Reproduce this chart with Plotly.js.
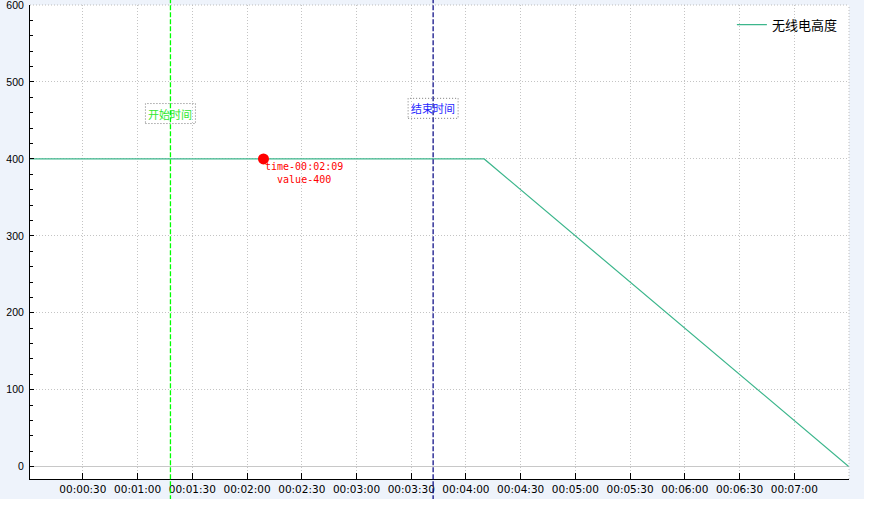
<!DOCTYPE html>
<html>
<head>
<meta charset="utf-8">
<script src="https://cdn.plot.ly/plotly-3.0.1.min.js"></script>
<style>
  html, body { margin: 0; padding: 0; background: #ffffff; }
  #chart { width: 864px; height: 499px; }
</style>
</head>
<body>
<div id="chart"></div>
<script>
// ---- data (seconds / metres) ----
var seriesName = '无线电高度';
var timeSec = [1, 250, 450];
var heightValues = [400, 400, 0];

var tickSeconds = [30, 60, 90, 120, 150, 180, 210, 240, 270, 300, 330, 360, 390, 420, 450];
var tickLabels = ['00:00:30', '00:01:00', '00:01:30', '00:02:00', '00:02:30', '00:03:00', '00:03:30',
                  '00:04:00', '00:04:30', '00:05:00', '00:05:30', '00:06:00', '00:06:30', '00:07:00', ''];
var yTickValues = [0, 100, 200, 300, 400, 500, 600];

var startTime = [78];
var endTime = [222];
var markerLabels = ['开始时间', '结束时间'];

var cursorTime = [129];
var cursorValue = [400];

function fmt(s) {
  var h = Math.floor(s / 3600), m = Math.floor((s % 3600) / 60), sec = s % 60;
  var p = function (n) { return (n < 10 ? '0' : '') + n; };
  return p(h) + ':' + p(m) + ':' + p(sec);
}

var traces = [
  {
    x: timeSec, y: heightValues, type: 'scatter', mode: 'lines', name: seriesName,
    line: { color: '#3cb68c', width: 1.2 }, hoverinfo: 'skip'
  },
  {
    x: cursorTime, y: cursorValue, type: 'scatter', mode: 'markers', showlegend: false,
    marker: { color: '#ff0000', size: 11 }, hoverinfo: 'skip'
  }
];

var greenY = 0.771, blueY = 0.782;

var shapes = [
  // plot area top / right dotted borders
  { type: 'line', xref: 'paper', yref: 'paper', x0: 0, x1: 1, y0: 1, y1: 1,
    line: { color: '#bdbdbd', width: 1, dash: '1px,2px' } },
  { type: 'line', xref: 'paper', yref: 'paper', x0: 1, x1: 1, y0: 0, y1: 1,
    line: { color: '#bdbdbd', width: 1, dash: '1px,2px' } },
  // start / end vertical lines spanning the widget height
  { type: 'line', xref: 'x', yref: 'paper', x0: startTime[0], x1: startTime[0], y0: -0.045, y1: 1.012,
    line: { color: '#00ff00', width: 1.3, dash: '5px,2px' }, layer: 'above' },
  { type: 'line', xref: 'x', yref: 'paper', x0: endTime[0], x1: endTime[0], y0: -0.045, y1: 1.012,
    line: { color: '#000080', width: 1.2, dash: '5px,2px' }, layer: 'above' },
  // dotted label boxes
  { type: 'rect', xref: 'x', yref: 'paper', xsizemode: 'pixel', ysizemode: 'pixel',
    xanchor: startTime[0], yanchor: greenY, x0: -25, x1: 25, y0: -10, y1: 10,
    line: { color: '#7a7a7a', width: 1, dash: '1px,2px' }, fillcolor: 'rgba(0,0,0,0)', layer: 'above' },
  { type: 'rect', xref: 'x', yref: 'paper', xsizemode: 'pixel', ysizemode: 'pixel',
    xanchor: endTime[0], yanchor: blueY, x0: -25, x1: 25, y0: -10, y1: 10,
    line: { color: '#7a7a7a', width: 1, dash: '1px,2px' }, fillcolor: 'rgba(0,0,0,0)', layer: 'above' }
];

var annotations = [
  { x: startTime[0], y: greenY, xref: 'x', yref: 'paper', text: markerLabels[0], showarrow: false,
    xanchor: 'center', yanchor: 'middle',
    font: { family: 'Noto Sans CJK SC', size: 11, color: '#2fe82f' } },
  { x: endTime[0], y: blueY, xref: 'x', yref: 'paper', text: markerLabels[1], showarrow: false,
    xanchor: 'center', yanchor: 'middle',
    font: { family: 'Noto Sans CJK SC', size: 11, color: '#1f1fff' } },
  { x: cursorTime[0], y: cursorValue[0], xref: 'x', yref: 'y',
    text: 'time-' + fmt(cursorTime[0]) + '<br>value-' + cursorValue[0],
    showarrow: false, xanchor: 'left', yanchor: 'top', align: 'center', xshift: 0, yshift: 0,
    font: { family: 'DejaVu Sans Mono', size: 10, color: '#ff0000' } }
];

var layout = {
  width: 864, height: 499,
  paper_bgcolor: '#eef3fb', plot_bgcolor: '#ffffff',
  margin: { l: 30, r: 15, t: 5, b: 20, pad: 0 },
  font: { family: 'DejaVu Sans', size: 10, color: '#000000' },
  showlegend: true,
  legend: {
    x: 0.857, xanchor: 'left', y: 0.99, yanchor: 'top',
    bgcolor: 'rgba(0,0,0,0)', borderwidth: 0,
    font: { family: 'Noto Sans CJK SC', size: 13, color: '#000000' }
  },
  xaxis: {
    range: [1, 450], tickmode: 'array', tickvals: tickSeconds, ticktext: tickLabels,
    showline: true, linecolor: '#000000', linewidth: 1,
    ticks: 'inside', ticklen: 6, tickcolor: '#000000', tickwidth: 1,
    showgrid: true, gridcolor: '#c4c4c4', gridwidth: 1, griddash: '1px,2px',
    zeroline: false, ticklabelstandoff: 0, ticklabeloverflow: 'allow',
    tickfont: { family: 'DejaVu Sans', size: 10.5, color: '#000000' }
  },
  yaxis: {
    range: [-16, 600.05], tickmode: 'array', tickvals: yTickValues,
    showline: true, linecolor: '#000000', linewidth: 1,
    ticks: 'inside', ticklen: 4, tickcolor: '#000000', tickwidth: 1,
    minor: { tickmode: 'linear', tick0: 0, dtick: 20, ticks: 'inside', ticklen: 3, tickcolor: '#000000', showgrid: false },
    showgrid: true, gridcolor: '#c4c4c4', gridwidth: 1, griddash: '1px,2px',
    zeroline: true, zerolinecolor: '#c8c8c8', zerolinewidth: 1,
    ticklabelstandoff: 3, ticklabeloverflow: 'allow',
    tickfont: { family: 'Liberation Sans', size: 10.5, color: '#000000' }
  },
  shapes: shapes,
  annotations: annotations
};

Plotly.newPlot('chart', traces, layout, { displayModeBar: false, staticPlot: true });
</script>
</body>
</html>
